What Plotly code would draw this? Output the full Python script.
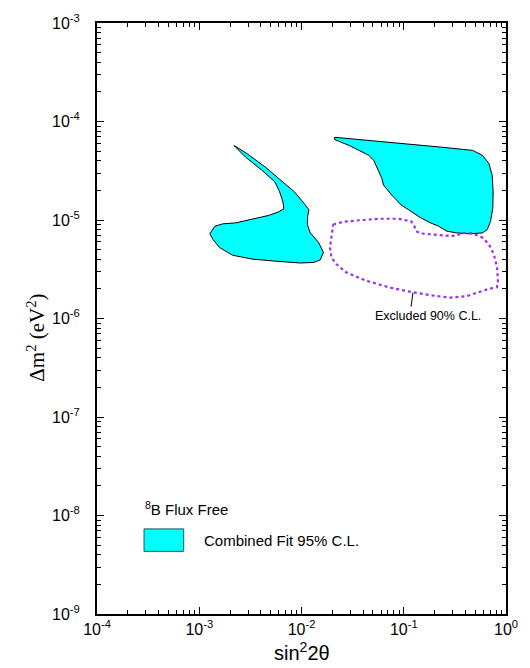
import math
import plotly.graph_objects as go

# Combined fit 95% C.L. region, low-mixing island (sin^2 2theta, dm^2)
left_x = [2.19e-3, 2.94e-3, 4.40e-3, 6.34e-3, 8.49e-3, 1.057e-2, 1.18e-2, 1.15e-2, 1.14e-2,
          1.22e-2, 1.47e-2, 1.64e-2, 1.52e-2, 1.32e-2, 9.8e-3, 5.9e-3, 3.28e-3, 2.12e-3,
          1.58e-3, 1.36e-3, 1.27e-3, 1.42e-3, 1.70e-3, 2.27e-3, 3.53e-3, 4.72e-3, 5.88e-3,
          6.72e-3, 6.57e-3, 6.10e-3, 5.47e-3, 4.08e-3, 2.83e-3, 2.19e-3]
left_y = [5.70e-5, 4.71e-5, 3.46e-5, 2.54e-5, 1.94e-5, 1.48e-5, 1.27e-5, 1.09e-5, 9.0e-6,
          7.4e-6, 5.9e-6, 4.68e-6, 3.92e-6, 3.71e-6, 3.66e-6, 3.8e-6, 4.01e-6, 4.39e-6,
          5.25e-6, 6.36e-6, 7.24e-6, 8.65e-6, 9.14e-6, 9.35e-6, 1.03e-5, 1.11e-5, 1.20e-5,
          1.30e-5, 1.54e-5, 1.94e-5, 2.45e-5, 3.21e-5, 4.36e-5, 5.70e-5]

# Combined fit 95% C.L. region, large-mixing island
right_x = [2.11e-2, 0.0760, 0.228, 0.472, 0.589, 0.681, 0.732, 0.748, 0.743, 0.706, 0.656,
           0.589, 0.440, 0.328, 0.264, 0.219, 0.183, 0.147, 0.118, 0.0946, 0.0760, 0.068,
           0.0633, 0.0611, 0.0547, 0.0509, 0.0456, 0.0366, 0.0294, 0.0236, 0.0211, 2.11e-2]
right_y = [6.91e-5, 6.17e-5, 5.50e-5, 5.09e-5, 4.53e-5, 3.74e-5, 2.85e-5, 1.94e-5, 1.32e-5,
           9.7e-6, 8.0e-6, 7.4e-6, 7.24e-6, 7.4e-6, 7.7e-6, 8.65e-6, 9.35e-6, 1.05e-5, 1.22e-5,
           1.42e-5, 1.80e-5, 2.10e-5, 2.27e-5, 2.64e-5, 3.33e-5, 4.03e-5, 4.53e-5, 5.09e-5,
           5.70e-5, 6.25e-5, 6.55e-5, 6.91e-5]

# Excluded 90% C.L. contour
excl_x = [0.0204, 0.0254, 0.0366, 0.0568, 0.0881, 0.118, 0.127, 0.132, 0.147, 0.197, 0.283,
          0.328, 0.380, 0.472, 0.589, 0.681, 0.760, 0.817, 0.835, 0.817, 0.681, 0.547, 0.408,
          0.283, 0.183, 0.118, 0.0706, 0.0424, 0.0273, 0.0219, 0.0196, 0.0190, 0.0196, 0.0201,
          0.0204]
excl_y = [9.0e-6, 9.57e-6, 9.94e-6, 1.03e-5, 1.03e-5, 9.7e-6, 8.65e-6, 7.7e-6, 7.31e-6, 7.14e-6,
          6.87e-6, 6.98e-6, 7.4e-6, 7.31e-6, 6.61e-6, 5.66e-6, 4.50e-6, 3.31e-6, 2.43e-6, 2.08e-6,
          2.0e-6, 1.86e-6, 1.68e-6, 1.63e-6, 1.72e-6, 1.86e-6, 2.08e-6, 2.43e-6, 2.94e-6, 3.57e-6,
          4.17e-6, 5.25e-6, 6.61e-6, 8.0e-6, 9.0e-6]

# Label pointer for the excluded contour
pointer_x = [0.123, 0.118]
pointer_y = [1.83e-6, 1.32e-6]
excl_label = "Excluded 90% C.L."
excl_label_pos = (0.171, 1.05e-6)

x_exps = [-4, -3, -2, -1, 0]
y_exps = [-9, -8, -7, -6, -5, -4, -3]

CYAN = "#00FFFF"
PURPLE = "#9B30F0"
FONT = "Liberation Sans, Arial, sans-serif"
SERIF = "Liberation Serif, Times New Roman, serif"

fig = go.Figure()
for xs, ys in [(left_x, left_y), (right_x, right_y)]:
    fig.add_trace(go.Scatter(x=xs, y=ys, mode="lines", fill="toself", fillcolor=CYAN,
                             line=dict(color="black", width=1), showlegend=False,
                             hoverinfo="skip"))
fig.add_trace(go.Scatter(x=excl_x, y=excl_y, mode="lines",
                         line=dict(color=PURPLE, width=2.2, dash="dot"),
                         showlegend=False, hoverinfo="skip"))
fig.add_trace(go.Scatter(x=pointer_x, y=pointer_y, mode="lines",
                         line=dict(color="black", width=1), showlegend=False,
                         hoverinfo="skip"))

def minor_vals(exps):
    out = []
    for e in exps[:-1]:
        for m in range(2, 10):
            out.append(m * 10.0 ** e)
    return out

axis_common = dict(type="log", showgrid=False, zeroline=False, showline=True,
                   linecolor="black", linewidth=2, mirror="allticks",
                   ticks="inside", ticklen=7, tickwidth=1, tickcolor="black",
                   tickfont=dict(family=FONT, size=16, color="black"))

fig.update_xaxes(range=[-4, 0],
                 tickvals=[10.0 ** e for e in x_exps],
                 ticktext=[f"10<sup>{e}</sup>" for e in x_exps],
                 minor=dict(tickvals=minor_vals(x_exps), ticks="inside", ticklen=4,
                            tickcolor="black", tickwidth=1, showgrid=False),
                 **axis_common)
fig.update_yaxes(range=[-9, -3],
                 tickvals=[10.0 ** e for e in y_exps],
                 ticktext=[f"10<sup>{e}</sup>" for e in y_exps],
                 minor=dict(tickvals=minor_vals(y_exps), ticks="inside", ticklen=4,
                            tickcolor="black", tickwidth=1, showgrid=False),
                 ticklabelstandoff=12,
                 **axis_common)

annotations = [
    dict(x=0.5, y=-0.064, xref="paper", yref="paper", text="sin<sup>2</sup>2θ",
         showarrow=False, font=dict(family=FONT, size=20, color="black"),
         xanchor="center", yanchor="middle"),
    dict(x=-0.15, y=0.467, xref="paper", yref="paper", text="Δm<sup>2</sup> (eV<sup>2</sup>)",
         textangle=-90, showarrow=False, font=dict(family=SERIF, size=21, color="black"),
         xanchor="center", yanchor="middle"),
    dict(x=math.log10(excl_label_pos[0]), y=math.log10(excl_label_pos[1]),
         xref="x", yref="y", text=excl_label, showarrow=False,
         font=dict(family=FONT, size=12.5, color="black"),
         xanchor="center", yanchor="middle"),
    dict(x=0.113, y=0.179, xref="paper", yref="paper", text="<sup>8</sup>B Flux Free",
         showarrow=False, font=dict(family=FONT, size=15, color="black"),
         xanchor="left", yanchor="middle"),
    dict(x=0.256, y=0.125, xref="paper", yref="paper", text="Combined Fit 95% C.L.",
         showarrow=False, font=dict(family=FONT, size=15, color="black"),
         xanchor="left", yanchor="middle"),
]

fig.add_shape(type="rect", xref="paper", yref="paper", x0=0.115, x1=0.212, y0=0.106, y1=0.144,
              fillcolor=CYAN, line=dict(color="#1a5a5a", width=1))

fig.update_layout(width=530, height=668, margin=dict(l=97, r=13, t=16, b=54),
                  paper_bgcolor="white", plot_bgcolor="white",
                  annotations=annotations, showlegend=False)

fig.write_html("out.html")
